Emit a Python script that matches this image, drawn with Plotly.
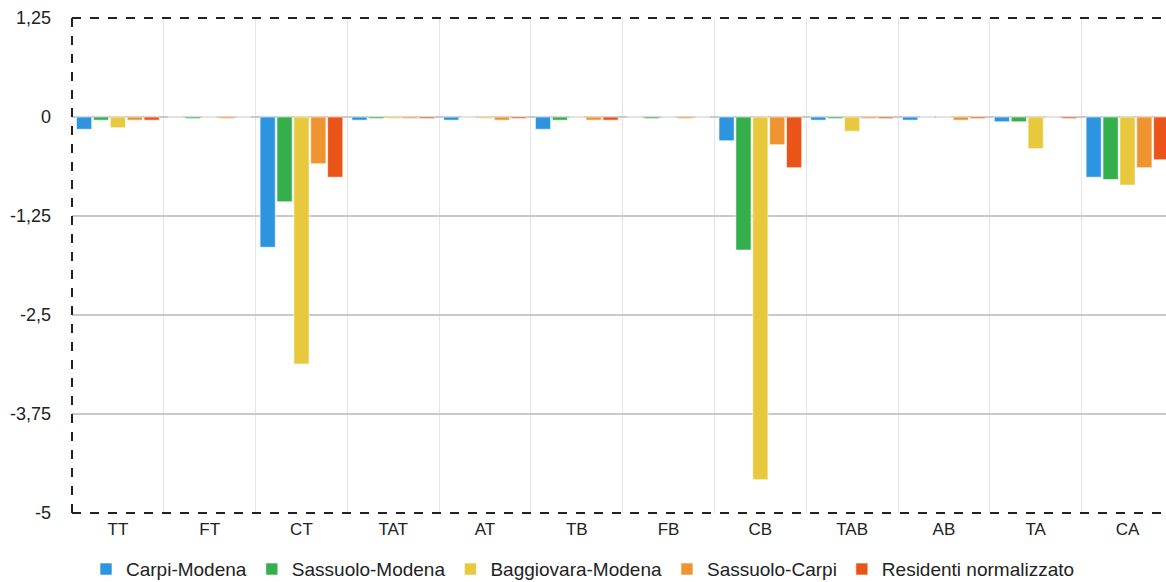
import plotly.graph_objects as go

categories = ["TT", "FT", "CT", "TAT", "AT", "TB", "FB", "CB", "TAB", "AB", "TA", "CA"]
series_names = ["Carpi-Modena", "Sassuolo-Modena", "Baggiovara-Modena", "Sassuolo-Carpi", "Residenti normalizzato"]

carpi_modena = [-0.155, 0.0, -1.645, -0.04, -0.04, -0.155, 0.0, -0.30, -0.04, -0.04, -0.06, -0.76]
sassuolo_modena = [-0.04, -0.02, -1.07, -0.02, 0.0, -0.04, -0.02, -1.68, -0.02, 0.0, -0.06, -0.79]
baggiovara_modena = [-0.135, 0.0, -3.12, -0.02, -0.02, 0.0, 0.0, -4.58, -0.18, 0.0, -0.40, -0.86]
sassuolo_carpi = [-0.04, -0.02, -0.59, -0.02, -0.04, -0.04, -0.02, -0.35, -0.02, -0.04, 0.0, -0.64]
residenti_norm = [-0.04, 0.0, -0.76, -0.02, -0.02, -0.04, 0.0, -0.64, -0.02, -0.02, -0.02, -0.54]

tick_vals = [1.25, 0, -1.25, -2.5, -3.75, -5]
tick_text = ["1,25", "0", "-1,25", "-2,5", "-3,75", "-5"]

colors = ["#2d95e0", "#35ae4c", "#e8c93e", "#ee9430", "#ea5418"]
all_values = [carpi_modena, sassuolo_modena, baggiovara_modena, sassuolo_carpi, residenti_norm]

fig = go.Figure()
for name, vals, col in zip(series_names, all_values, colors):
    fig.add_trace(go.Bar(
        x=categories, y=vals, name=name,
        marker=dict(color=col, line=dict(color="rgba(255,255,255,0.6)", width=1)),
    ))

fig.update_layout(
    width=1166, height=582,
    margin=dict(l=72, r=0, t=18, b=69, autoexpand=False),
    paper_bgcolor="white", plot_bgcolor="white",
    font=dict(family="Liberation Sans, Arial, sans-serif", size=17, color="#222"),
    barmode="group", bargap=0.08, bargroupgap=0.1,
    showlegend=True,
    legend=dict(orientation="h", xref="container", x=0.5, xanchor="center",
                yref="container", y=0.022, yanchor="middle",
                font=dict(size=19), itemwidth=30, traceorder="normal"),
    xaxis=dict(
        type="category", tickson="boundaries", showgrid=True, gridcolor="#e4e4e4", gridwidth=1,
        ticks="", showline=False, zeroline=False, range=[-0.5, 11.42], automargin=False,
        tickfont=dict(size=17), ticklabelstandoff=4,
    ),
    yaxis=dict(
        range=[-5, 1.25], tickvals=tick_vals, ticktext=tick_text, automargin=False,
        showgrid=True, gridcolor="#c9c9c9", gridwidth=1.5,
        zeroline=True, zerolinecolor="#c9c9c9", zerolinewidth=2,
        showline=False, ticks="", ticklabelstandoff=20, tickfont=dict(size=18),
    ),
)

frame = dict(color="#222", width=2, dash="dash")
fig.add_shape(type="line", xref="paper", yref="paper", x0=0, x1=1, y0=1, y1=1, line=frame)
fig.add_shape(type="line", xref="paper", yref="paper", x0=0, x1=1, y0=0, y1=0, line=frame)
fig.add_shape(type="line", xref="paper", yref="paper", x0=0, x1=0, y0=0, y1=1, line=frame)

fig.write_html("out.html", config={"displayModeBar": False},
               post_script="document.body.style.margin='0';document.body.style.overflow='hidden';")
